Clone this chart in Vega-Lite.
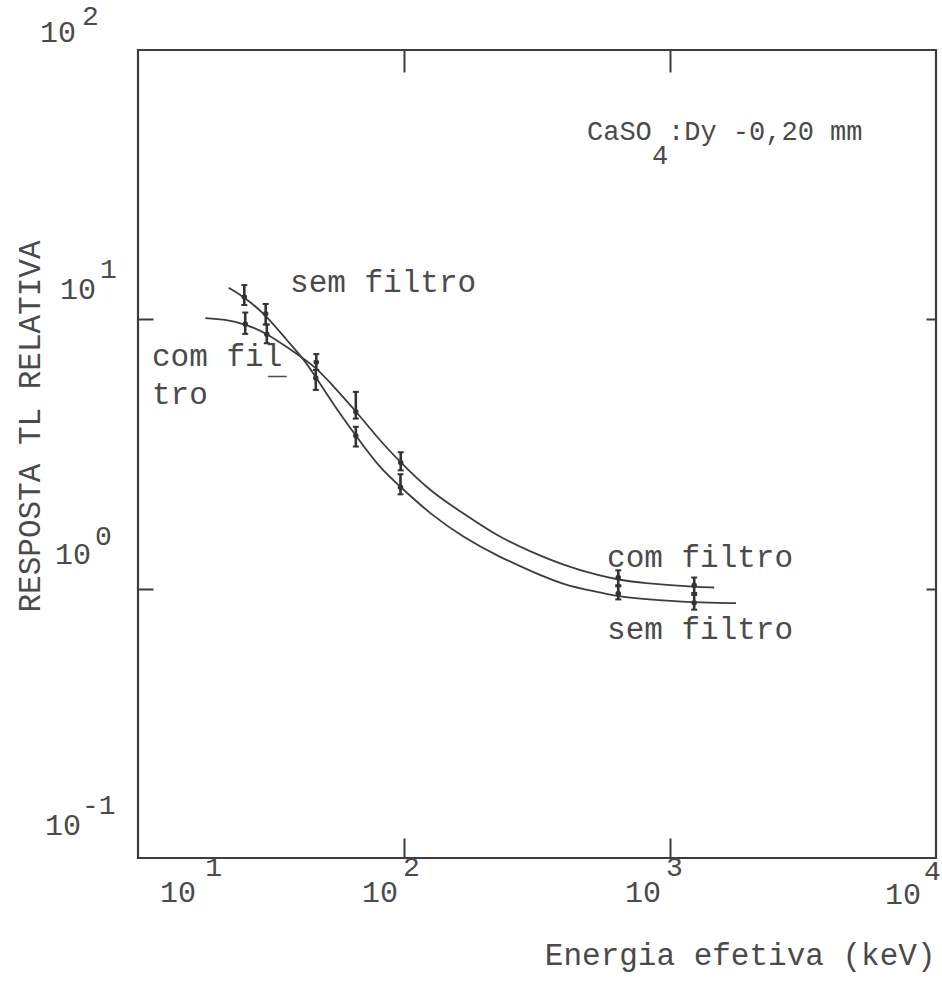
{
  "$schema": "https://vega.github.io/schema/vega-lite/v6.json",
  "width": 798,
  "height": 808,
  "autosize": "none",
  "padding": {"left": 138, "top": 50, "right": 6, "bottom": 129},
  "background": "white",
  "config": {
    "view": {"stroke": "#3d3d3d", "strokeWidth": 2.2},
    "axis": {"labels": false, "domain": false, "grid": false, "tickColor": "#3d3d3d", "tickWidth": 2, "titleFont": "Liberation Mono", "titleFontSize": 31, "titleFontWeight": "normal", "titleColor": "#4a4a4a"},
    "text": {"font": "Liberation Mono", "color": "#4a4a4a"}
  },
  "datasets": {
    "curves": [
      {"serie": "sem filtro", "E": 21.9, "R": 13.1},
      {"serie": "sem filtro", "E": 25.1, "R": 12.1},
      {"serie": "sem filtro", "E": 30.2, "R": 10.4},
      {"serie": "sem filtro", "E": 36.4, "R": 8.32},
      {"serie": "sem filtro", "E": 41.5, "R": 7.22},
      {"serie": "sem filtro", "E": 46.6, "R": 6.11},
      {"serie": "sem filtro", "E": 54.2, "R": 4.84},
      {"serie": "sem filtro", "E": 65.9, "R": 3.70},
      {"serie": "sem filtro", "E": 80.9, "R": 2.81},
      {"serie": "sem filtro", "E": 97.3, "R": 2.38},
      {"serie": "sem filtro", "E": 125.6, "R": 1.89},
      {"serie": "sem filtro", "E": 167.5, "R": 1.55},
      {"serie": "sem filtro", "E": 225.4, "R": 1.32},
      {"serie": "sem filtro", "E": 300.6, "R": 1.16},
      {"serie": "sem filtro", "E": 400.9, "R": 1.03},
      {"serie": "sem filtro", "E": 537, "R": 0.972},
      {"serie": "sem filtro", "E": 639, "R": 0.935},
      {"serie": "sem filtro", "E": 780, "R": 0.916},
      {"serie": "sem filtro", "E": 1233, "R": 0.886},
      {"serie": "sem filtro", "E": 1770, "R": 0.884},
      {"serie": "com filtro", "E": 17.9, "R": 10.1},
      {"serie": "com filtro", "E": 21.2, "R": 10.0},
      {"serie": "com filtro", "E": 25.3, "R": 9.61},
      {"serie": "com filtro", "E": 30.5, "R": 8.87},
      {"serie": "com filtro", "E": 36.6, "R": 7.84},
      {"serie": "com filtro", "E": 46.8, "R": 6.65},
      {"serie": "com filtro", "E": 54.3, "R": 5.63},
      {"serie": "com filtro", "E": 65.9, "R": 4.57},
      {"serie": "com filtro", "E": 80.8, "R": 3.56},
      {"serie": "com filtro", "E": 97.2, "R": 2.94},
      {"serie": "com filtro", "E": 125.4, "R": 2.30},
      {"serie": "com filtro", "E": 167.4, "R": 1.90},
      {"serie": "com filtro", "E": 225.4, "R": 1.56},
      {"serie": "com filtro", "E": 300.6, "R": 1.37},
      {"serie": "com filtro", "E": 400, "R": 1.22},
      {"serie": "com filtro", "E": 537, "R": 1.12},
      {"serie": "com filtro", "E": 639, "R": 1.08},
      {"serie": "com filtro", "E": 780, "R": 1.05},
      {"serie": "com filtro", "E": 1233, "R": 1.014},
      {"serie": "com filtro", "E": 1466, "R": 1.01}
    ],
    "points": [
      {"serie": "sem filtro", "E": 25.1, "R": 12.1, "lo": 11.3, "hi": 13.4},
      {"serie": "sem filtro", "E": 30.2, "R": 10.5, "lo": 9.57, "hi": 11.4},
      {"serie": "sem filtro", "E": 46.6, "R": 6.05, "lo": 5.47, "hi": 6.49},
      {"serie": "sem filtro", "E": 65.9, "R": 3.70, "lo": 3.37, "hi": 3.99},
      {"serie": "sem filtro", "E": 97, "R": 2.38, "lo": 2.24, "hi": 2.66},
      {"serie": "sem filtro", "E": 639, "R": 0.96, "lo": 0.912, "hi": 1.02},
      {"serie": "sem filtro", "E": 1233, "R": 0.886, "lo": 0.836, "hi": 0.948},
      {"serie": "com filtro", "E": 25.3, "R": 9.61, "lo": 8.83, "hi": 10.6},
      {"serie": "com filtro", "E": 30.5, "R": 8.80, "lo": 8.15, "hi": 9.57},
      {"serie": "com filtro", "E": 46.8, "R": 6.93, "lo": 6.49, "hi": 7.43},
      {"serie": "com filtro", "E": 65.9, "R": 4.54, "lo": 4.28, "hi": 5.38},
      {"serie": "com filtro", "E": 97.2, "R": 2.94, "lo": 2.75, "hi": 3.21},
      {"serie": "com filtro", "E": 639, "R": 1.10, "lo": 1.03, "hi": 1.17},
      {"serie": "com filtro", "E": 1233, "R": 1.03, "lo": 0.964, "hi": 1.10}
    ],
    "ticklabels": [
      {"t": "10", "E": 12.1, "R": 0.0741},
      {"t": "10", "E": 69.5, "R": 0.0741},
      {"t": "10", "E": 677, "R": 0.0741},
      {"t": "10", "E": 6432, "R": 0.0729},
      {"t": "10", "E": 4.28, "R": 115.6},
      {"t": "10", "E": 5.09, "R": 12.85},
      {"t": "10", "E": 4.88, "R": 1.334},
      {"t": "10", "E": 4.47, "R": 0.1315}
    ],
    "exponents": [
      {"t": "1", "E": 17.9, "R": 0.0918},
      {"t": "2", "E": 99.1, "R": 0.0918},
      {"t": "3", "E": 966, "R": 0.0918},
      {"t": "4", "E": 9015, "R": 0.0887},
      {"t": "2", "E": 6.16, "R": 132.6},
      {"t": "1", "E": 7.2, "R": 15.25},
      {"t": "0", "E": 6.89, "R": 1.555},
      {"t": "-1", "E": 6.16, "R": 0.156}
    ],
    "notes": [
      {"t": "sem filtro", "E": 37.3, "R": 13.64},
      {"t": "com fil", "E": 11.29, "R": 7.25},
      {"t": "_", "E": 30.8, "R": 6.77},
      {"t": "tro", "E": 11.29, "R": 5.24},
      {"t": "com filtro", "E": 579.8, "R": 1.30},
      {"t": "sem filtro", "E": 579.8, "R": 0.702}
    ],
    "material": [
      {"t": "CaSO", "E": 487.5, "R": 49.6},
      {"t": "4", "E": 855.6, "R": 40.4},
      {"t": ":Dy -0,20 mm", "E": 983, "R": 49.6}
    ]
  },
  "layer": [
    {
      "data": {"name": "curves"},
      "mark": {"type": "line", "interpolate": "basis", "color": "#3d3d3d", "strokeWidth": 1.8},
      "encoding": {
        "x": {"field": "E", "type": "quantitative", "scale": {"type": "log", "domain": [10, 10000], "nice": false},
          "axis": {"orient": "bottom", "values": [100, 1000], "tickSize": -20, "title": "Energia efetiva (keV)", "titleX": 797, "titleY": 97, "titleAlign": "right", "titleBaseline": "middle", "titleAngle": 0}},
        "y": {"field": "R", "type": "quantitative", "scale": {"type": "log", "domain": [0.1, 100], "nice": false},
          "axis": {"orient": "left", "values": [1, 10], "tickSize": -15, "title": "RESPOSTA TL RELATIVA", "titleX": -108, "titleY": 376, "titleAlign": "center", "titleBaseline": "middle", "titleAngle": 270}},
        "detail": {"field": "serie"}
      }
    },
    {
      "data": {"name": "points"},
      "mark": {"type": "rule", "color": "#333333", "strokeWidth": 2.6},
      "encoding": {
        "x": {"field": "E", "type": "quantitative", "scale": {"type": "log", "domain": [10, 10000], "nice": false},
          "axis": {"orient": "top", "values": [100, 1000], "tickSize": -22, "title": null}},
        "y": {"field": "lo", "type": "quantitative", "scale": {"type": "log", "domain": [0.1, 100], "nice": false},
          "axis": {"orient": "right", "values": [1, 10], "tickSize": -10, "title": null}},
        "y2": {"field": "hi"}
      }
    },
    {
      "data": {"name": "points"},
      "mark": {"type": "point", "shape": "M-1,0H1", "filled": false, "color": "#333333", "strokeWidth": 2, "size": 36, "opacity": 1},
      "encoding": {
        "x": {"field": "E", "type": "quantitative", "scale": {"type": "log", "domain": [10, 10000], "nice": false}, "axis": null},
        "y": {"field": "lo", "type": "quantitative", "scale": {"type": "log", "domain": [0.1, 100], "nice": false}, "axis": null}
      }
    },
    {
      "data": {"name": "points"},
      "mark": {"type": "point", "shape": "M-1,0H1", "filled": false, "color": "#333333", "strokeWidth": 2, "size": 36, "opacity": 1},
      "encoding": {
        "x": {"field": "E", "type": "quantitative", "scale": {"type": "log", "domain": [10, 10000], "nice": false}, "axis": null},
        "y": {"field": "hi", "type": "quantitative", "scale": {"type": "log", "domain": [0.1, 100], "nice": false}, "axis": null}
      }
    },
    {
      "data": {"name": "points"},
      "mark": {"type": "point", "shape": "circle", "filled": true, "color": "#333333", "size": 30, "opacity": 1},
      "encoding": {
        "x": {"field": "E", "type": "quantitative", "scale": {"type": "log", "domain": [10, 10000], "nice": false}, "axis": null},
        "y": {"field": "R", "type": "quantitative", "scale": {"type": "log", "domain": [0.1, 100], "nice": false}, "axis": null}
      }
    },
    {
      "data": {"name": "ticklabels"},
      "mark": {"type": "text", "align": "left", "baseline": "middle", "fontSize": 30},
      "encoding": {
        "x": {"field": "E", "type": "quantitative", "scale": {"type": "log", "domain": [10, 10000], "nice": false}, "axis": null},
        "y": {"field": "R", "type": "quantitative", "scale": {"type": "log", "domain": [0.1, 100], "nice": false}, "axis": null},
        "text": {"field": "t"}
      }
    },
    {
      "data": {"name": "exponents"},
      "mark": {"type": "text", "align": "left", "baseline": "middle", "fontSize": 28},
      "encoding": {
        "x": {"field": "E", "type": "quantitative", "scale": {"type": "log", "domain": [10, 10000], "nice": false}, "axis": null},
        "y": {"field": "R", "type": "quantitative", "scale": {"type": "log", "domain": [0.1, 100], "nice": false}, "axis": null},
        "text": {"field": "t"}
      }
    },
    {
      "data": {"name": "notes"},
      "mark": {"type": "text", "align": "left", "baseline": "middle", "fontSize": 31},
      "encoding": {
        "x": {"field": "E", "type": "quantitative", "scale": {"type": "log", "domain": [10, 10000], "nice": false}, "axis": null},
        "y": {"field": "R", "type": "quantitative", "scale": {"type": "log", "domain": [0.1, 100], "nice": false}, "axis": null},
        "text": {"field": "t"}
      }
    },
    {
      "data": {"name": "material"},
      "mark": {"type": "text", "align": "left", "baseline": "middle", "fontSize": 27},
      "encoding": {
        "x": {"field": "E", "type": "quantitative", "scale": {"type": "log", "domain": [10, 10000], "nice": false}, "axis": null},
        "y": {"field": "R", "type": "quantitative", "scale": {"type": "log", "domain": [0.1, 100], "nice": false}, "axis": null},
        "text": {"field": "t"}
      }
    }
  ],
  "resolve": {"axis": {"x": "independent", "y": "independent"}}
}
